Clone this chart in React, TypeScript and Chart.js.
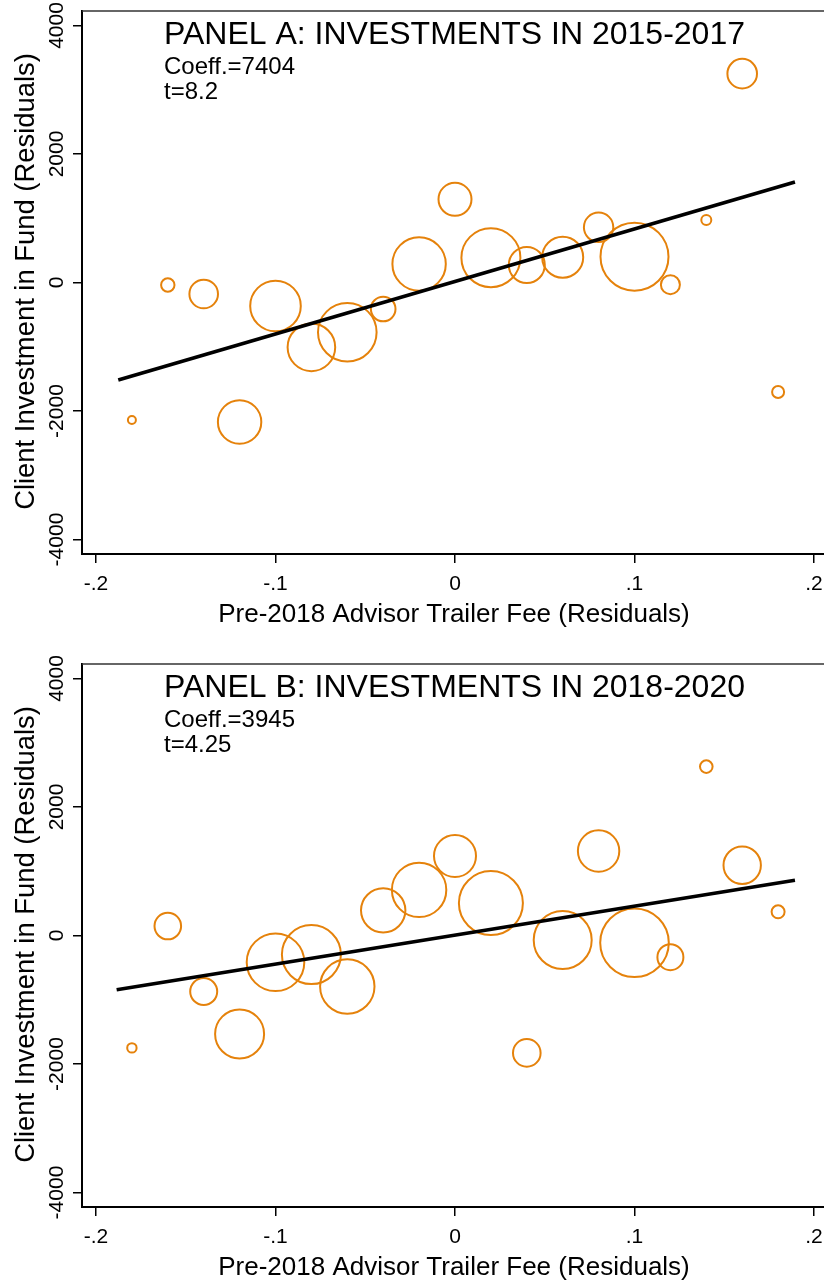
import React, { useEffect, useRef } from "react";
import { Chart, registerables } from "chart.js";

Chart.register(...registerables);

// ---------- data ----------
const feeBins = [-0.18, -0.16, -0.14, -0.12, -0.1, -0.08, -0.06, -0.04, -0.02, 0, 0.02, 0.04, 0.06, 0.08, 0.1, 0.12, 0.14, 0.16, 0.18];

const panelAInvest = [-2140, -39, -179, -2171, -366, -1009, -775, -412, 288, 1295, 386, 272, 392, 859, 402, -34, 973, 3250, -1704];
const panelAWeight = [4, 6.7, 14.3, 21.7, 25.3, 23.8, 29.3, 12.3, 26.7, 16.5, 29.5, 18, 20.5, 14.7, 34, 9.5, 5, 14.8, 6];

const panelBInvest = [-1749, 147, -871, -1532, -416, -297, -794, 391, 710, 1237, 504, -1827, -70, 1315, -112, -338, 2628, 1093, 369];
const panelBWeight = [4.7, 13.3, 13.5, 24.5, 28.8, 29.5, 27.2, 22.2, 27.2, 21, 32, 13.8, 29, 20.7, 34.3, 13, 6.3, 18.7, 6.5];

const panelAFitX = [-0.1876, 0.1894];
const panelAFitY = [-1517, 1564];
const panelBFitX = [-0.1885, 0.1894];
const panelBFitY = [-845, 860];

const xTickValues = [-0.2, -0.1, 0, 0.1, 0.2];
const xTickLabels = ["-.2", "-.1", "0", ".1", ".2"];
const yTickValues = [-4000, -2000, 0, 2000, 4000];
const yTickLabels = ["-4000", "-2000", "0", "2000", "4000"];

const panelTitles = ["PANEL A: INVESTMENTS IN 2015-2017", "PANEL B: INVESTMENTS IN 2018-2020"];
const coeffLabels = ["Coeff.=7404", "Coeff.=3945"];
const tLabels = ["t=8.2", "t=4.25"];
const xAxisTitle = "Pre-2018 Advisor Trailer Fee (Residuals)";
const yAxisTitle = "Client Investment in Fund (Residuals)";

// ---------- styling ----------
const FONT = '"Liberation Sans", Arial, Helvetica, sans-serif';
const ORANGE = "#E5820B";
const CANVAS_W = 860;
const X_MIN = -0.207799;
const X_MAX = 0.214485;
const Y_MIN = -4225;
const Y_MAX = 4225;

type PanelProps = {
  idx: number;
  top: number;
  height: number;
  padTop: number;
  axisH: number;
  invest: number[];
  weight: number[];
  fitX: number[];
  fitY: number[];
};

function Panel(props: PanelProps) {
  const ref = useRef<HTMLCanvasElement | null>(null);
  useEffect(() => {
    const canvas = ref.current;
    if (!canvas) return;
    const { idx, invest, weight, fitX, fitY, padTop, axisH } = props;

    const textPlugin = {
      id: "stataText" + idx,
      afterDraw(chart: any) {
        const ctx = chart.ctx as CanvasRenderingContext2D;
        const area = chart.chartArea;
        const xs = chart.scales.x;
        const ys = chart.scales.y;
        ctx.save();
        // top frame line
        ctx.strokeStyle = "#333";
        ctx.lineWidth = 1.3;
        ctx.beginPath();
        ctx.moveTo(area.left, area.top);
        ctx.lineTo(chart.width, area.top);
        ctx.stroke();

        ctx.fillStyle = "#000";
        // titles
        ctx.textAlign = "left";
        ctx.textBaseline = "alphabetic";
        ctx.font = `32px ${FONT}`;
        ctx.fillText(panelTitles[idx], 164, area.top + 33.3);
        ctx.font = `24px ${FONT}`;
        ctx.fillText(coeffLabels[idx], 164, area.top + 63);
        ctx.fillText(tLabels[idx], 164, area.top + 88);

        // x tick labels
        ctx.font = `21px ${FONT}`;
        ctx.textAlign = "center";
        xTickValues.forEach((v, i) => {
          ctx.fillText(xTickLabels[i], xs.getPixelForValue(v), area.bottom + 35.5);
        });
        // y tick labels (rotated)
        yTickValues.forEach((v, i) => {
          ctx.save();
          ctx.translate(63.3, ys.getPixelForValue(v));
          ctx.rotate(-Math.PI / 2);
          ctx.fillText(yTickLabels[i], 0, 0);
          ctx.restore();
        });
        // axis titles
        ctx.font = `26px ${FONT}`;
        ctx.fillText(xAxisTitle, xs.getPixelForValue(0) - 1, area.bottom + 68);
        ctx.save();
        ctx.font = `27.4px ${FONT}`;
        ctx.translate(33.5, (area.top + area.bottom) / 2 - 1);
        ctx.rotate(-Math.PI / 2);
        ctx.fillText(yAxisTitle, 0, 0);
        ctx.restore();
        ctx.restore();
      },
    };

    const axisCommon = {
      type: "linear" as const,
      grid: { display: true, drawOnChartArea: false, drawTicks: true, tickLength: 9, color: "#000", lineWidth: 1.5 },
      border: { display: true, color: "#000", width: 2 },
      ticks: { display: false },
    };

    const chart = new Chart(canvas, {
      type: "bubble",
      data: {
        datasets: [
          {
            type: "line",
            data: fitX.map((x, i) => ({ x, y: fitY[i] })),
            borderColor: "#000",
            borderWidth: 3.6,
            pointRadius: 0,
            fill: false,
            order: 0,
          } as any,
          {
            type: "bubble",
            data: feeBins.map((x, i) => ({ x, y: invest[i], r: weight[i] })),
            borderColor: ORANGE,
            backgroundColor: "rgba(0,0,0,0)",
            borderWidth: 2,
            hoverRadius: 0,
            order: 1,
          } as any,
        ],
      },
      options: {
        responsive: false,
        animation: false,
        events: [],
        layout: { autoPadding: false, padding: { left: 0, top: padTop, right: CANVAS_W - 840, bottom: 0 } },
        plugins: { legend: { display: false }, tooltip: { enabled: false } },
        scales: {
          x: {
            ...axisCommon,
            position: "bottom",
            min: X_MIN,
            max: X_MAX,
            afterBuildTicks: (s: any) => {
              s.ticks = xTickValues.map((value) => ({ value }));
            },
            afterFit: (s: any) => {
              s.height = axisH;
            },
          },
          y: {
            ...axisCommon,
            position: "left",
            min: Y_MIN,
            max: Y_MAX,
            afterBuildTicks: (s: any) => {
              s.ticks = yTickValues.map((value) => ({ value }));
            },
            afterFit: (s: any) => {
              s.width = 82;
            },
          },
        },
      } as any,
      plugins: [textPlugin],
    });
    return () => chart.destroy();
  }, []);

  return (
    <div style={{ position: "absolute", left: 0, top: props.top, width: CANVAS_W, height: props.height }}>
      <canvas ref={ref} width={CANVAS_W} height={props.height} style={{ display: "block", width: CANVAS_W, height: props.height }} />
    </div>
  );
}

export default function App() {
  return (
    <div style={{ position: "absolute", left: 0, top: 0, width: 824, height: 1283, overflow: "hidden", background: "#fff" }}>
      <Panel idx={0} top={0} height={641} padTop={11} axisH={87} invest={panelAInvest} weight={panelAWeight} fitX={panelAFitX} fitY={panelAFitY} />
      <Panel idx={1} top={641} height={642} padTop={23} axisH={76} invest={panelBInvest} weight={panelBWeight} fitX={panelBFitX} fitY={panelBFitY} />
    </div>
  );
}
